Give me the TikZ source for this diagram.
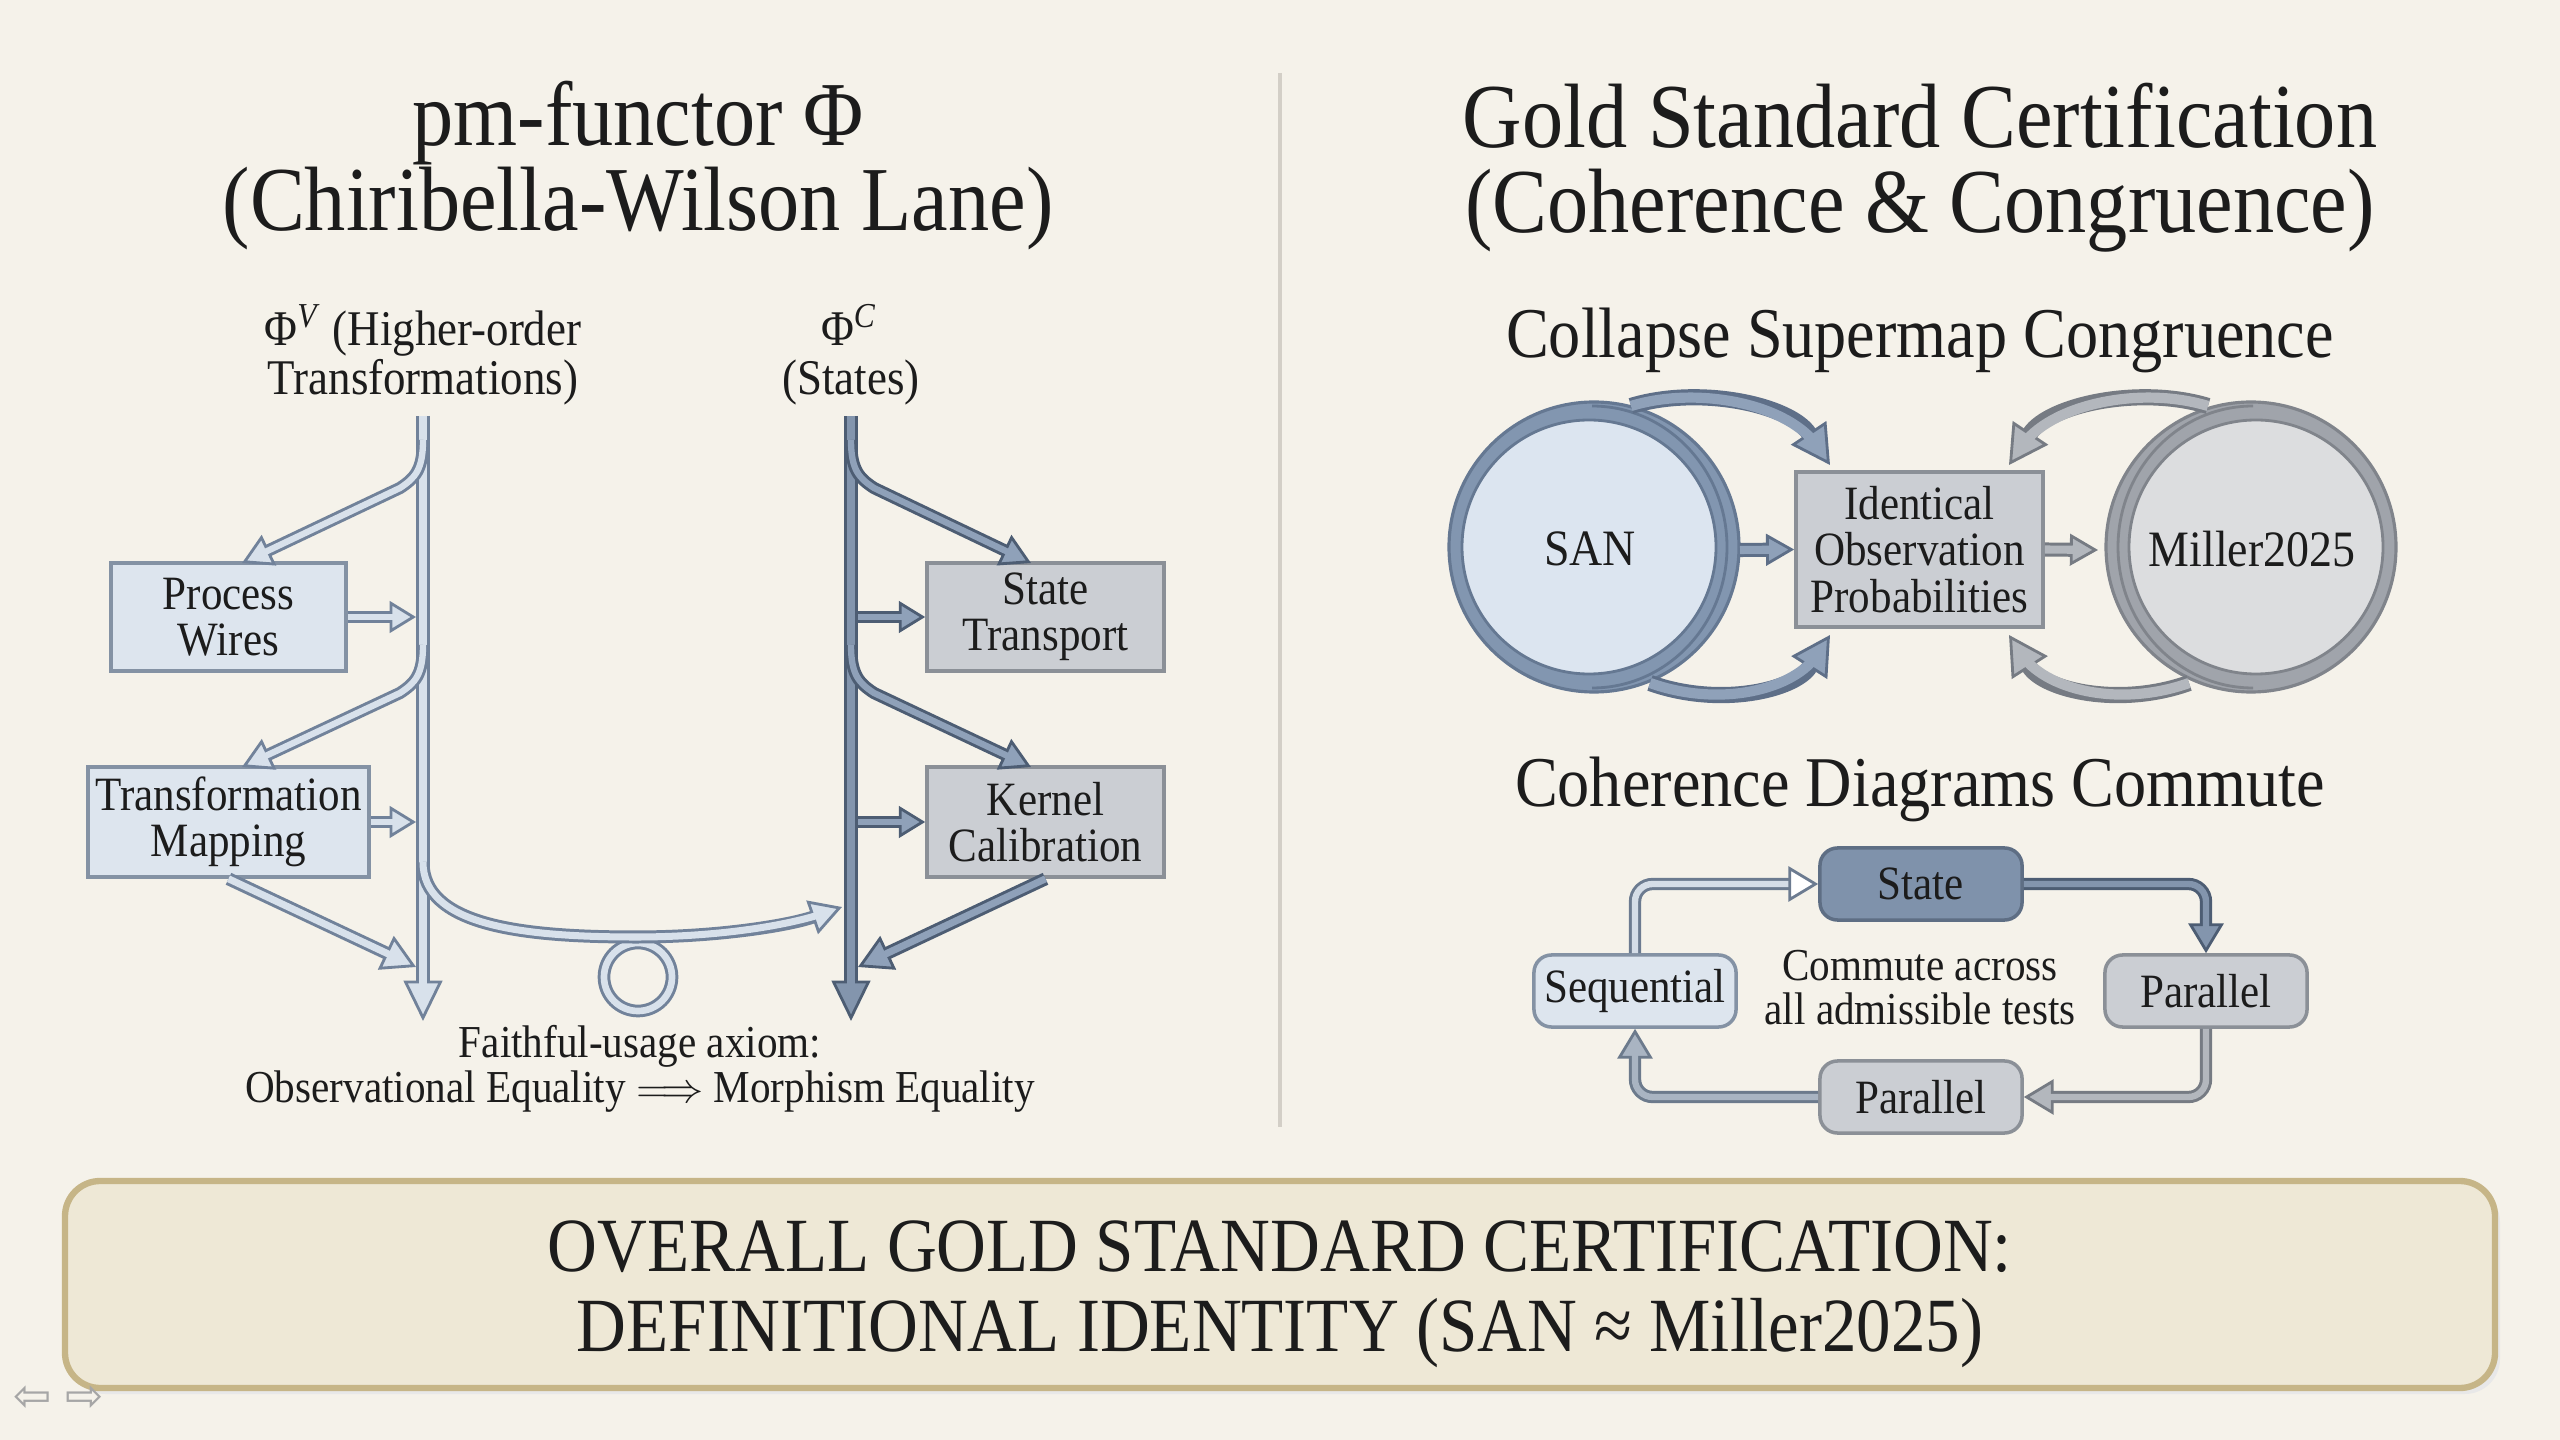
\documentclass[tikz,border=0pt]{standalone}
\usepackage{fontspec}
\setmainfont{Liberation Serif}[FakeStretch=0.9]
\newfontfamily\symfont{DejaVu Sans}
\usetikzlibrary{arrows.meta}
\definecolor{bg}{HTML}{F5F2EA}
\definecolor{sepc}{HTML}{D3CFC7}
\definecolor{txt}{HTML}{1C1C1C}
\definecolor{lightO}{HTML}{71829A}
\definecolor{lightI}{HTML}{D8E1EB}
\definecolor{darkO}{HTML}{4D5D73}
\definecolor{darkI}{HTML}{8395AD}
\definecolor{grayO}{HTML}{767B83}
\definecolor{grayI}{HTML}{B3B7BD}
\definecolor{midO}{HTML}{5E6F88}
\definecolor{midI}{HTML}{8FA1B9}
\definecolor{boxLf}{HTML}{DDE5EE}
\definecolor{boxLd}{HTML}{8492A4}
\definecolor{boxGf}{HTML}{CBCED3}
\definecolor{boxGd}{HTML}{8B9097}
\definecolor{stateF}{HTML}{7F92AB}
\definecolor{stateD}{HTML}{5E6E84}
\definecolor{sanR}{HTML}{8296B0}
\definecolor{sanD}{HTML}{657892}
\definecolor{sanI}{HTML}{DCE5F0}
\definecolor{milR}{HTML}{A0A4AB}
\definecolor{milD}{HTML}{80848B}
\definecolor{milI}{HTML}{DCDDDF}
\definecolor{banF}{HTML}{EEE8D6}
\definecolor{banD}{HTML}{C6B587}
\definecolor{seqO}{HTML}{6C7B90}
\definecolor{seqI}{HTML}{D5DDE7}
\definecolor{retO}{HTML}{6C7A8C}
\definecolor{retI}{HTML}{A9B4C2}
\tikzset{
  pipe/.style n args={5}{line width=#1, draw=#2,
    -{Triangle[length=#4,width=#5,fill=#3,line width=0.8pt]},
    postaction={draw=#3, line width=#1-1.7pt, -, shorten >=0.55*#4}},
  pipew/.style n args={5}{line width=#1, draw=#2,
    -{Triangle[length=#4,width=#5,fill=white,line width=0.8pt]},
    postaction={draw=#3, line width=#1-1.7pt, -, shorten >=#4}},
  boxtext/.style={font=\fontsize{13.6}{13.2}\selectfont, text=txt, align=center},
  lbox/.style={boxtext, draw=boxLd, fill=boxLf, line width=1pt, inner sep=0pt},
  gbox/.style={boxtext, draw=boxGd, fill=boxGf, line width=1pt, inner sep=0pt},
  cbox/.style={font=\fontsize{13.6}{13.6}\selectfont, text=txt, line width=1pt,
    rounded corners=5pt, minimum width=2.02cm, minimum height=0.72cm, inner sep=0pt},
  title/.style={anchor=base, text=txt, font=\fontsize{26}{26}\selectfont},
  subtitle/.style={anchor=base, text=txt, font=\fontsize{20.3}{20.3}\selectfont},
  lbl/.style={anchor=base, text=txt, font=\fontsize{14.2}{14.2}\selectfont},
  small/.style={anchor=base, text=txt, font=\fontsize{13}{13}\selectfont},
  banner/.style={anchor=base, text=txt, font=\fontsize{21.8}{21.8}\selectfont},
  circtext/.style={font=\fontsize{14.5}{14.5}\selectfont, text=txt},
}
\begin{document}
\begin{tikzpicture}[x=0.01cm,y=-0.01cm]
\useasboundingbox (0,0) rectangle (2560,1440);
\fill[bg] (0,0) rectangle (2560,1440);

% separator
\draw[sepc, line width=1pt] (1280,73) -- (1280,1127);

% titles
\node[title] (tl1) at (638,146) {pm-functor Φ};
\node[title] (tl2) at (638,231) {(Chiribella-Wilson Lane)};
\node[title] (tr1) at (1920,148) {Gold Standard Certification};
\node[title] (tr2) at (1920,233) {(Coherence \& Congruence)};

% lane labels
\node[lbl] (phv1) at (423,346) {Φ\textsuperscript{\textit{V}} (Higher-order};
\node[lbl] (phv2) at (423,395) {Transformations)};
\node[lbl] (phc1) at (849,346) {Φ\textsuperscript{\textit{C}}};
\node[lbl] (phc2) at (851,395) {(States)};

% lane coordinates
\coordinate (Ltop) at (423,416);
\coordinate (Lbot) at (423,1021);
\coordinate (Rtop) at (851,416);
\coordinate (Rbot) at (851,1021);

% loop ring
\coordinate (ring) at (638,977);
\draw[lightO, line width=3.6pt] (ring) circle (34);
\draw[lightI, line width=1.9pt] (ring) circle (34);

% lanes
\draw[pipe={4pt}{lightO}{lightI}{11.5pt}{11pt}] (Ltop) -- (Lbot);
\draw[pipe={4pt}{darkO}{darkI}{11.5pt}{11pt}] (Rtop) -- (Rbot);

% boxes (left / right)
\node[lbox, minimum width=2.35cm, minimum height=1.08cm] (pw) at (228.5,617) {Process\\Wires};
\node[lbox, minimum width=2.81cm, minimum height=1.10cm] (tm) at (228.5,822) {Transformation\\Mapping};
\node[gbox, minimum width=2.37cm, minimum height=1.08cm] (st) at (1045.5,617) {State\\Transport};
\node[gbox, minimum width=2.37cm, minimum height=1.10cm] (kc) at (1045.5,822) {Kernel\\Calibration};

% branch arrows
\coordinate (pwT) at (242,563);
\coordinate (tmT) at (242,767);
\coordinate (stT) at (1031,563);
\coordinate (kcT) at (1031,767);
\draw[pipe={3.5pt}{lightO}{lightI}{8.5pt}{9.5pt}] (423,440) .. controls (423,470) and (415,478) .. (400,488) -- (pwT);
\draw[pipe={3.5pt}{lightO}{lightI}{8.5pt}{9.5pt}] (423,645) .. controls (423,675) and (415,683) .. (400,693) -- (tmT);
\draw[pipe={3.5pt}{darkO}{midI}{8.5pt}{9.5pt}] (851,440) .. controls (851,470) and (859,478) .. (874,488) -- (stT);
\draw[pipe={3.5pt}{darkO}{midI}{8.5pt}{9.5pt}] (851,645) .. controls (851,675) and (859,683) .. (874,693) -- (kcT);

% horizontal arrows
\coordinate (L1) at (416,617);
\coordinate (L2) at (416,822);
\coordinate (R1) at (858,617);
\coordinate (R2) at (858,822);
\draw[pipe={3.5pt}{lightO}{lightI}{7.5pt}{9pt}] (pw.east) -- (L1);
\draw[pipe={3.5pt}{lightO}{lightI}{7.5pt}{9pt}] (tm.east) -- (L2);
\draw[pipe={3.5pt}{darkO}{midI}{7.5pt}{9pt}] (R1) -- (st.west);
\draw[pipe={3.5pt}{darkO}{midI}{7.5pt}{9pt}] (R2) -- (kc.west);

% bottom diagonal arrows
\coordinate (L3) at (416,967);
\coordinate (R3) at (858,967);
\draw[pipe={3.7pt}{lightO}{lightI}{9.5pt}{10.5pt}] (tm.south) -- (L3);
\draw[pipe={3.7pt}{darkO}{midI}{9.5pt}{10.5pt}] (kc.south) -- (R3);

% connecting curve
\coordinate (cEnd) at (842,907);
\draw[pipe={3.7pt}{lightO}{lightI}{9pt}{10pt}] (423,862) .. controls (423,925) and (520,937) .. (636,937) .. controls (720,937) and (790,925) .. (cEnd);

% faithful usage
\node[small] (fa1) at (640,1057) {Faithful-usage axiom:};
\node[small] (fa2) at (640,1102) {Observational Equality $\Longrightarrow$ Morphism Equality};

% ---------------- right half
\node[subtitle] (sub1) at (1920,358) {Collapse Supermap Congruence};
\node[subtitle] (sub2) at (1920,807) {Coherence Diagrams Commute};

% SAN ring
\fill[sanR] (1594,547) circle (145);
\draw[sanD, line width=0.9pt] (1594,547) circle (145);
\draw[sanD, line width=0.8pt] (1592,406) arc[start angle=-90, end angle=90, x radius=135, y radius=141];
\filldraw[fill=sanI, draw=sanD, line width=0.8pt] (1589,547) circle (127);
\node[circtext] (san) at (1590,549) {SAN};

% Miller ring
\fill[milR] (2251,547) circle (145);
\draw[milD, line width=0.9pt] (2251,547) circle (145);
\draw[milD, line width=0.8pt] (2253,406) arc[start angle=-90, end angle=-270, x radius=135, y radius=141];
\filldraw[fill=milI, draw=milD, line width=0.8pt] (2256,547) circle (127);
\node[circtext] (mil) at (2252,549) {Miller2025};

% central box
\node[gbox, minimum width=2.47cm, minimum height=1.55cm] (idop) at (1919.5,549.5) {Identical\\Observation\\Probabilities};

\coordinate (sanE) at (1740,550);
\coordinate (milW) at (2098,550);
\draw[pipe={4pt}{midO}{midI}{8pt}{9pt}] (sanE) -- (idop.west);
\draw[pipe={4pt}{grayO}{grayI}{8pt}{9pt}] (idop.east) -- (milW);

\coordinate (sanT) at (1631,406);
\coordinate (sanB) at (1650,683);
\coordinate (milT) at (2208,406);
\coordinate (milB) at (2189,683);
\coordinate (idTL) at (1830,465);
\coordinate (idBL) at (1830,635);
\coordinate (idTR) at (2009,465);
\coordinate (idBR) at (2009,635);
\draw[pipe={4.6pt}{midO}{midI}{11pt}{12pt}] (sanT) .. controls (1700,385) and (1790,405) .. (idTL);
\draw[pipe={4.6pt}{midO}{midI}{11pt}{12pt}] (sanB) .. controls (1720,708) and (1795,690) .. (idBL);
\draw[pipe={4.6pt}{grayO}{grayI}{11pt}{12pt}] (milT) .. controls (2139,385) and (2049,405) .. (idTR);
\draw[pipe={4.6pt}{grayO}{grayI}{11pt}{12pt}] (milB) .. controls (2119,708) and (2044,690) .. (idBR);

% coherence diagram
\node[cbox, fill=stateF, draw=stateD] (state) at (1921,884) {State};
\node[cbox, fill=boxLf, draw=boxLd] (seq) at (1635,991) {Sequential};
\node[cbox, fill=boxGf, draw=boxGd] (parR) at (2206,991) {Parallel};
\node[cbox, fill=boxGf, draw=boxGd] (parB) at (1921,1097) {Parallel};
\node[small] (cm1) at (1920,980) {Commute across};
\node[small] (cm2) at (1920,1024) {all admissible tests};

\draw[pipew={3.5pt}{seqO}{seqI}{8.5pt}{10pt}, rounded corners=5pt] (seq.north) |- (state.west);
\draw[pipe={3.5pt}{darkO}{darkI}{8.5pt}{10pt}, rounded corners=5pt] (state.east) -| (parR.north);
\draw[pipe={3.5pt}{grayO}{grayI}{8.5pt}{10pt}, rounded corners=5pt] (parR.south) |- (parB.east);
\draw[pipe={3.5pt}{retO}{retI}{8.5pt}{10pt}, rounded corners=5pt] (parB.west) -| (seq.south);

% banner
\fill[black!9, rounded corners=10pt] (70,1187) rectangle (2500,1394);
\draw[draw=banD, fill=banF, line width=1.8pt, rounded corners=10pt] (65,1181) rectangle (2495,1388);
\node[banner] (bn1) at (1280,1271) {OVERALL GOLD STANDARD CERTIFICATION:};
\node[banner] (bn2) at (1280,1351) {DEFINITIONAL IDENTITY (SAN ≈ Miller2025)};

% nav icons
\node[text=black!35, font=\symfont\fontsize{13}{13}\selectfont] (navL) at (33,1399) {⇦};
\node[text=black!35, font=\symfont\fontsize{13}{13}\selectfont] (navR) at (85,1399) {⇨};
\end{tikzpicture}
\end{document}
